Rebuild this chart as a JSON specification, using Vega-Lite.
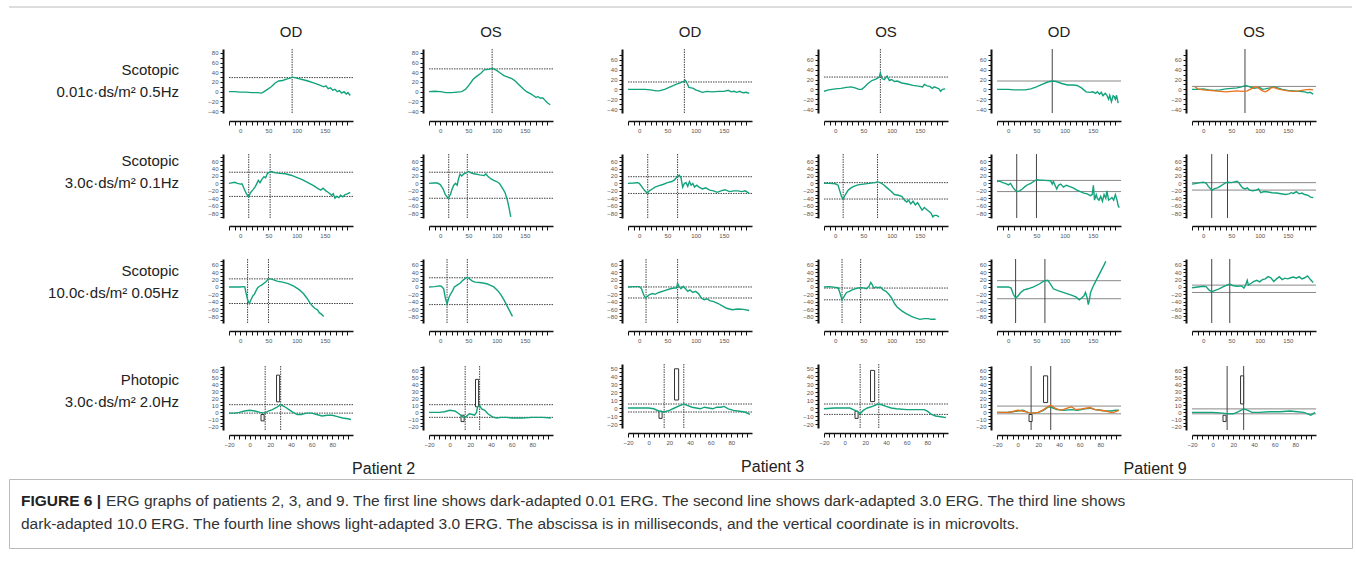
{
"$schema": "https://vega.github.io/schema/vega-lite/v6.json",
"padding": {"left": 8, "top": 6, "right": 5, "bottom": 5},
"background": "white",
"config": {
 "font": "Liberation Sans",
 "view": {"stroke": null},
 "axis": {"grid": false, "domainColor": "#111", "tickColor": "#111", "labelColor": "#555", "labelFontSize": 6, "labelOverlap": false, "labelFlush": false, "titleOpacity": 0, "tickWidth": 1},
 "axisX": {"offset": 8, "domainWidth": 1.5, "tickSize": 4, "labelPadding": 2},
 "axisY": {"offset": 6, "domainWidth": 2, "tickSize": 3, "labelPadding": 2},
 "title": {"fontSize": 15, "fontWeight": "normal", "color": "#222", "font": "Liberation Sans"}
},
"datasets": {
"h": [
{"p":"11","v":29},{"p":"12","v":47},{"p":"13","v":15},{"p":"14","v":25},{"p":"15","v":17},{"p":"16","v":6},
{"p":"21","v":30},{"p":"21","v":-35},{"p":"22","v":30},{"p":"22","v":-40},{"p":"23","v":18},{"p":"23","v":-27},{"p":"24","v":2},{"p":"24","v":-42},{"p":"25","v":8},{"p":"25","v":-22},{"p":"26","v":2},{"p":"26","v":-18},
{"p":"31","v":22},{"p":"31","v":-45},{"p":"32","v":25},{"p":"32","v":-48},{"p":"33","v":0},{"p":"33","v":-30},{"p":"34","v":-3},{"p":"34","v":-35},{"p":"35","v":17},{"p":"35","v":-32},{"p":"36","v":5},{"p":"36","v":-15},
{"p":"41","v":11},{"p":"41","v":-1},{"p":"42","v":11},{"p":"42","v":-7},{"p":"43","v":5},{"p":"43","v":-5},{"p":"44","v":5},{"p":"44","v":-8},{"p":"45","v":9},{"p":"45","v":-2},{"p":"46","v":5},{"p":"46","v":-2}
],
"vl": [
{"p":"11","t":92},{"p":"12","t":92},{"p":"13","t":80},{"p":"14","t":80},{"p":"15","t":78},{"p":"16","t":74},
{"p":"21","t":15},{"p":"21","t":53},{"p":"22","t":15},{"p":"22","t":48},{"p":"23","t":15},{"p":"23","t":68},{"p":"24","t":14},{"p":"24","t":75},{"p":"25","t":15},{"p":"25","t":50},{"p":"26","t":15},{"p":"26","t":43},
{"p":"31","t":13},{"p":"31","t":50},{"p":"32","t":12},{"p":"32","t":48},{"p":"33","t":12},{"p":"33","t":68},{"p":"34","t":12},{"p":"34","t":45},{"p":"35","t":13},{"p":"35","t":65},{"p":"36","t":15},{"p":"36","t":47},
{"p":"41","t":15},{"p":"41","t":30},{"p":"42","t":15},{"p":"42","t":29},{"p":"43","t":15},{"p":"43","t":34},{"p":"44","t":15},{"p":"44","t":33},{"p":"45","t":13},{"p":"45","t":32},{"p":"46","t":14},{"p":"46","t":30}
],
"b": [
{"p":"41","x1":11,"x2":14,"y1":-12,"y2":-3},{"p":"41","x1":26,"x2":29,"y1":15,"y2":53},
{"p":"42","x1":11,"x2":14,"y1":-13,"y2":-4},{"p":"42","x1":25,"x2":28,"y1":8,"y2":47},
{"p":"43","x1":10,"x2":13,"y1":-13,"y2":-4},{"p":"43","x1":25,"x2":29,"y1":10,"y2":49},
{"p":"44","x1":10,"x2":13,"y1":-13,"y2":-4},{"p":"44","x1":25,"x2":29,"y1":8,"y2":47},
{"p":"45","x1":11,"x2":14,"y1":-13,"y2":-3},{"p":"45","x1":25,"x2":29,"y1":14,"y2":52},
{"p":"46","x1":10,"x2":13,"y1":-13,"y2":-4},{"p":"46","x1":27,"x2":30,"y1":12,"y2":52}
],
"c": [
{"p":"11","s":"g","t":-20,"v":0},{"p":"11","s":"g","t":-10,"v":0},{"p":"11","s":"g","t":0,"v":-1},{"p":"11","s":"g","t":10,"v":-1},{"p":"11","s":"g","t":20,"v":-2},{"p":"11","s":"g","t":30,"v":-2},{"p":"11","s":"g","t":38,"v":-3},{"p":"11","s":"g","t":45,"v":2},{"p":"11","s":"g","t":55,"v":10},{"p":"11","s":"g","t":62,"v":18},{"p":"11","s":"g","t":68,"v":22},{"p":"11","s":"g","t":75,"v":23},{"p":"11","s":"g","t":82,"v":26},{"p":"11","s":"g","t":88,"v":28},{"p":"11","s":"g","t":93,"v":30},{"p":"11","s":"g","t":100,"v":28},{"p":"11","s":"g","t":110,"v":25},{"p":"11","s":"g","t":120,"v":22},{"p":"11","s":"g","t":130,"v":18},{"p":"11","s":"g","t":140,"v":14},{"p":"11","s":"g","t":148,"v":10},{"p":"11","s":"g","t":152,"v":12},{"p":"11","s":"g","t":156,"v":6},{"p":"11","s":"g","t":160,"v":8},{"p":"11","s":"g","t":164,"v":3},{"p":"11","s":"g","t":168,"v":5},{"p":"11","s":"g","t":172,"v":0},{"p":"11","s":"g","t":176,"v":2},{"p":"11","s":"g","t":180,"v":-3},{"p":"11","s":"g","t":184,"v":0},{"p":"11","s":"g","t":188,"v":-5},{"p":"11","s":"g","t":191,"v":-2},{"p":"11","s":"g","t":195,"v":-8},
{"p":"12","s":"g","t":-20,"v":0},{"p":"12","s":"g","t":-10,"v":1},{"p":"12","s":"g","t":0,"v":0},{"p":"12","s":"g","t":10,"v":-2},{"p":"12","s":"g","t":20,"v":-2},{"p":"12","s":"g","t":30,"v":-1},{"p":"12","s":"g","t":38,"v":0},{"p":"12","s":"g","t":45,"v":5},{"p":"12","s":"g","t":52,"v":15},{"p":"12","s":"g","t":58,"v":25},{"p":"12","s":"g","t":65,"v":32},{"p":"12","s":"g","t":72,"v":38},{"p":"12","s":"g","t":78,"v":45},{"p":"12","s":"g","t":85,"v":46},{"p":"12","s":"g","t":93,"v":48},{"p":"12","s":"g","t":100,"v":44},{"p":"12","s":"g","t":107,"v":38},{"p":"12","s":"g","t":113,"v":33},{"p":"12","s":"g","t":120,"v":30},{"p":"12","s":"g","t":127,"v":27},{"p":"12","s":"g","t":133,"v":22},{"p":"12","s":"g","t":140,"v":14},{"p":"12","s":"g","t":147,"v":6},{"p":"12","s":"g","t":153,"v":0},{"p":"12","s":"g","t":160,"v":-4},{"p":"12","s":"g","t":165,"v":-8},{"p":"12","s":"g","t":170,"v":-12},{"p":"12","s":"g","t":173,"v":-10},{"p":"12","s":"g","t":177,"v":-13},{"p":"12","s":"g","t":182,"v":-13},{"p":"12","s":"g","t":186,"v":-18},{"p":"12","s":"g","t":190,"v":-23},{"p":"12","s":"g","t":195,"v":-27},
{"p":"13","s":"g","t":-20,"v":0},{"p":"13","s":"g","t":-10,"v":0},{"p":"13","s":"g","t":0,"v":0},{"p":"13","s":"g","t":10,"v":0},{"p":"13","s":"g","t":20,"v":-1},{"p":"13","s":"g","t":30,"v":-3},{"p":"13","s":"g","t":35,"v":-3},{"p":"13","s":"g","t":45,"v":0},{"p":"13","s":"g","t":55,"v":5},{"p":"13","s":"g","t":65,"v":10},{"p":"13","s":"g","t":75,"v":14},{"p":"13","s":"g","t":80,"v":17},{"p":"13","s":"g","t":82,"v":18},{"p":"13","s":"g","t":85,"v":12},{"p":"13","s":"g","t":88,"v":4},{"p":"13","s":"g","t":92,"v":3},{"p":"13","s":"g","t":96,"v":2},{"p":"13","s":"g","t":100,"v":-1},{"p":"13","s":"g","t":105,"v":-3},{"p":"13","s":"g","t":112,"v":-6},{"p":"13","s":"g","t":120,"v":-4},{"p":"13","s":"g","t":130,"v":-5},{"p":"13","s":"g","t":140,"v":-4},{"p":"13","s":"g","t":150,"v":-4},{"p":"13","s":"g","t":158,"v":-2},{"p":"13","s":"g","t":163,"v":-5},{"p":"13","s":"g","t":168,"v":-4},{"p":"13","s":"g","t":173,"v":-6},{"p":"13","s":"g","t":178,"v":-4},{"p":"13","s":"g","t":184,"v":-7},{"p":"13","s":"g","t":190,"v":-6},{"p":"13","s":"g","t":195,"v":-8},
{"p":"14","s":"g","t":-20,"v":-4},{"p":"14","s":"g","t":-12,"v":-1},{"p":"14","s":"g","t":0,"v":1},{"p":"14","s":"g","t":10,"v":2},{"p":"14","s":"g","t":20,"v":4},{"p":"14","s":"g","t":28,"v":5},{"p":"14","s":"g","t":35,"v":3},{"p":"14","s":"g","t":42,"v":0},{"p":"14","s":"g","t":47,"v":0},{"p":"14","s":"g","t":52,"v":5},{"p":"14","s":"g","t":58,"v":12},{"p":"14","s":"g","t":65,"v":18},{"p":"14","s":"g","t":72,"v":21},{"p":"14","s":"g","t":78,"v":25},{"p":"14","s":"g","t":80,"v":33},{"p":"14","s":"g","t":83,"v":22},{"p":"14","s":"g","t":87,"v":20},{"p":"14","s":"g","t":92,"v":27},{"p":"14","s":"g","t":96,"v":18},{"p":"14","s":"g","t":100,"v":20},{"p":"14","s":"g","t":105,"v":16},{"p":"14","s":"g","t":110,"v":17},{"p":"14","s":"g","t":118,"v":13},{"p":"14","s":"g","t":128,"v":11},{"p":"14","s":"g","t":138,"v":8},{"p":"14","s":"g","t":150,"v":6},{"p":"14","s":"g","t":155,"v":5},{"p":"14","s":"g","t":158,"v":10},{"p":"14","s":"g","t":163,"v":7},{"p":"14","s":"g","t":168,"v":6},{"p":"14","s":"g","t":172,"v":2},{"p":"14","s":"g","t":176,"v":5},{"p":"14","s":"g","t":180,"v":3},{"p":"14","s":"g","t":184,"v":1},{"p":"14","s":"g","t":187,"v":-4},{"p":"14","s":"g","t":190,"v":0},{"p":"14","s":"g","t":195,"v":1},
{"p":"15","s":"g","t":-20,"v":0},{"p":"15","s":"g","t":-10,"v":0},{"p":"15","s":"g","t":0,"v":0},{"p":"15","s":"g","t":10,"v":-1},{"p":"15","s":"g","t":20,"v":-1},{"p":"15","s":"g","t":30,"v":-1},{"p":"15","s":"g","t":40,"v":1},{"p":"15","s":"g","t":50,"v":5},{"p":"15","s":"g","t":60,"v":10},{"p":"15","s":"g","t":70,"v":15},{"p":"15","s":"g","t":78,"v":17},{"p":"15","s":"g","t":85,"v":16},{"p":"15","s":"g","t":95,"v":12},{"p":"15","s":"g","t":105,"v":9},{"p":"15","s":"g","t":115,"v":9},{"p":"15","s":"g","t":122,"v":8},{"p":"15","s":"g","t":130,"v":3},{"p":"15","s":"g","t":138,"v":-5},{"p":"15","s":"g","t":145,"v":-6},{"p":"15","s":"g","t":150,"v":-5},{"p":"15","s":"g","t":155,"v":-8},{"p":"15","s":"g","t":158,"v":-5},{"p":"15","s":"g","t":162,"v":-10},{"p":"15","s":"g","t":165,"v":-6},{"p":"15","s":"g","t":168,"v":-13},{"p":"15","s":"g","t":172,"v":-8},{"p":"15","s":"g","t":175,"v":-12},{"p":"15","s":"g","t":178,"v":-20},{"p":"15","s":"g","t":180,"v":-12},{"p":"15","s":"g","t":183,"v":-25},{"p":"15","s":"g","t":186,"v":-13},{"p":"15","s":"g","t":188,"v":-15},{"p":"15","s":"g","t":190,"v":-20},{"p":"15","s":"g","t":192,"v":-12},{"p":"15","s":"g","t":195,"v":-28},
{"p":"16","s":"g","t":-20,"v":0},{"p":"16","s":"g","t":-10,"v":0},{"p":"16","s":"g","t":0,"v":1},{"p":"16","s":"g","t":10,"v":-1},{"p":"16","s":"g","t":20,"v":-2},{"p":"16","s":"g","t":30,"v":-1},{"p":"16","s":"g","t":40,"v":1},{"p":"16","s":"g","t":50,"v":2},{"p":"16","s":"g","t":60,"v":3},{"p":"16","s":"g","t":68,"v":5},{"p":"16","s":"g","t":75,"v":8},{"p":"16","s":"g","t":80,"v":6},{"p":"16","s":"g","t":85,"v":4},{"p":"16","s":"g","t":90,"v":2},{"p":"16","s":"g","t":95,"v":3},{"p":"16","s":"g","t":100,"v":4},{"p":"16","s":"g","t":105,"v":0},{"p":"16","s":"g","t":110,"v":1},{"p":"16","s":"g","t":118,"v":3},{"p":"16","s":"g","t":125,"v":5},{"p":"16","s":"g","t":132,"v":3},{"p":"16","s":"g","t":140,"v":0},{"p":"16","s":"g","t":150,"v":-2},{"p":"16","s":"g","t":160,"v":-3},{"p":"16","s":"g","t":170,"v":-4},{"p":"16","s":"g","t":180,"v":-5},{"p":"16","s":"g","t":185,"v":-7},{"p":"16","s":"g","t":190,"v":-6},{"p":"16","s":"g","t":195,"v":-10},
{"p":"16","s":"o","t":-15,"v":6},{"p":"16","s":"o","t":-10,"v":1},{"p":"16","s":"o","t":0,"v":-1},{"p":"16","s":"o","t":10,"v":-2},{"p":"16","s":"o","t":20,"v":-3},{"p":"16","s":"o","t":30,"v":-4},{"p":"16","s":"o","t":40,"v":-5},{"p":"16","s":"o","t":50,"v":-4},{"p":"16","s":"o","t":60,"v":-3},{"p":"16","s":"o","t":70,"v":-4},{"p":"16","s":"o","t":78,"v":-3},{"p":"16","s":"o","t":85,"v":1},{"p":"16","s":"o","t":90,"v":4},{"p":"16","s":"o","t":95,"v":5},{"p":"16","s":"o","t":100,"v":1},{"p":"16","s":"o","t":105,"v":-3},{"p":"16","s":"o","t":110,"v":-5},{"p":"16","s":"o","t":115,"v":-2},{"p":"16","s":"o","t":120,"v":3},{"p":"16","s":"o","t":125,"v":4},{"p":"16","s":"o","t":132,"v":1},{"p":"16","s":"o","t":140,"v":-1},{"p":"16","s":"o","t":150,"v":-3},{"p":"16","s":"o","t":160,"v":-4},{"p":"16","s":"o","t":170,"v":-3},{"p":"16","s":"o","t":180,"v":-1},{"p":"16","s":"o","t":188,"v":0},{"p":"16","s":"o","t":195,"v":-1},
{"p":"21","s":"g","t":-20,"v":0},{"p":"21","s":"g","t":-10,"v":3},{"p":"21","s":"g","t":-5,"v":0},{"p":"21","s":"g","t":0,"v":-2},{"p":"21","s":"g","t":3,"v":-1},{"p":"21","s":"g","t":7,"v":-15},{"p":"21","s":"g","t":11,"v":-28},{"p":"21","s":"g","t":15,"v":-36},{"p":"21","s":"g","t":18,"v":-25},{"p":"21","s":"g","t":22,"v":-18},{"p":"21","s":"g","t":26,"v":-10},{"p":"21","s":"g","t":29,"v":-2},{"p":"21","s":"g","t":32,"v":8},{"p":"21","s":"g","t":35,"v":2},{"p":"21","s":"g","t":38,"v":10},{"p":"21","s":"g","t":42,"v":18},{"p":"21","s":"g","t":45,"v":15},{"p":"21","s":"g","t":48,"v":26},{"p":"21","s":"g","t":52,"v":30},{"p":"21","s":"g","t":56,"v":32},{"p":"21","s":"g","t":60,"v":29},{"p":"21","s":"g","t":70,"v":27},{"p":"21","s":"g","t":80,"v":26},{"p":"21","s":"g","t":90,"v":22},{"p":"21","s":"g","t":100,"v":16},{"p":"21","s":"g","t":110,"v":10},{"p":"21","s":"g","t":120,"v":2},{"p":"21","s":"g","t":130,"v":-6},{"p":"21","s":"g","t":138,"v":-14},{"p":"21","s":"g","t":143,"v":-18},{"p":"21","s":"g","t":147,"v":-13},{"p":"21","s":"g","t":152,"v":-20},{"p":"21","s":"g","t":157,"v":-25},{"p":"21","s":"g","t":162,"v":-32},{"p":"21","s":"g","t":165,"v":-28},{"p":"21","s":"g","t":168,"v":-40},{"p":"21","s":"g","t":171,"v":-35},{"p":"21","s":"g","t":175,"v":-38},{"p":"21","s":"g","t":178,"v":-32},{"p":"21","s":"g","t":182,"v":-36},{"p":"21","s":"g","t":186,"v":-30},{"p":"21","s":"g","t":190,"v":-28},{"p":"21","s":"g","t":195,"v":-24},
{"p":"22","s":"g","t":-20,"v":0},{"p":"22","s":"g","t":-12,"v":1},{"p":"22","s":"g","t":-5,"v":1},{"p":"22","s":"g","t":0,"v":-3},{"p":"22","s":"g","t":5,"v":-15},{"p":"22","s":"g","t":9,"v":-30},{"p":"22","s":"g","t":14,"v":-40},{"p":"22","s":"g","t":18,"v":-30},{"p":"22","s":"g","t":21,"v":-15},{"p":"22","s":"g","t":24,"v":-5},{"p":"22","s":"g","t":27,"v":0},{"p":"22","s":"g","t":30,"v":-5},{"p":"22","s":"g","t":32,"v":10},{"p":"22","s":"g","t":35,"v":25},{"p":"22","s":"g","t":38,"v":20},{"p":"22","s":"g","t":42,"v":26},{"p":"22","s":"g","t":46,"v":28},{"p":"22","s":"g","t":50,"v":32},{"p":"22","s":"g","t":55,"v":28},{"p":"22","s":"g","t":60,"v":26},{"p":"22","s":"g","t":70,"v":23},{"p":"22","s":"g","t":78,"v":21},{"p":"22","s":"g","t":81,"v":26},{"p":"22","s":"g","t":84,"v":20},{"p":"22","s":"g","t":90,"v":12},{"p":"22","s":"g","t":95,"v":8},{"p":"22","s":"g","t":100,"v":5},{"p":"22","s":"g","t":105,"v":0},{"p":"22","s":"g","t":110,"v":-12},{"p":"22","s":"g","t":115,"v":-25},{"p":"22","s":"g","t":119,"v":-45},{"p":"22","s":"g","t":122,"v":-65},{"p":"22","s":"g","t":125,"v":-90},
{"p":"23","s":"g","t":-20,"v":0},{"p":"23","s":"g","t":-10,"v":1},{"p":"23","s":"g","t":-3,"v":2},{"p":"23","s":"g","t":0,"v":0},{"p":"23","s":"g","t":5,"v":-10},{"p":"23","s":"g","t":10,"v":-20},{"p":"23","s":"g","t":14,"v":-26},{"p":"23","s":"g","t":18,"v":-20},{"p":"23","s":"g","t":23,"v":-15},{"p":"23","s":"g","t":28,"v":-10},{"p":"23","s":"g","t":35,"v":-6},{"p":"23","s":"g","t":42,"v":-3},{"p":"23","s":"g","t":50,"v":2},{"p":"23","s":"g","t":58,"v":5},{"p":"23","s":"g","t":63,"v":10},{"p":"23","s":"g","t":68,"v":20},{"p":"23","s":"g","t":71,"v":22},{"p":"23","s":"g","t":74,"v":15},{"p":"23","s":"g","t":77,"v":-10},{"p":"23","s":"g","t":80,"v":0},{"p":"23","s":"g","t":83,"v":2},{"p":"23","s":"g","t":86,"v":-8},{"p":"23","s":"g","t":89,"v":5},{"p":"23","s":"g","t":92,"v":-5},{"p":"23","s":"g","t":95,"v":0},{"p":"23","s":"g","t":98,"v":-10},{"p":"23","s":"g","t":102,"v":-5},{"p":"23","s":"g","t":106,"v":-10},{"p":"23","s":"g","t":112,"v":-15},{"p":"23","s":"g","t":118,"v":-12},{"p":"23","s":"g","t":125,"v":-18},{"p":"23","s":"g","t":132,"v":-20},{"p":"23","s":"g","t":138,"v":-24},{"p":"23","s":"g","t":145,"v":-20},{"p":"23","s":"g","t":152,"v":-17},{"p":"23","s":"g","t":160,"v":-22},{"p":"23","s":"g","t":168,"v":-20},{"p":"23","s":"g","t":175,"v":-20},{"p":"23","s":"g","t":182,"v":-22},{"p":"23","s":"g","t":188,"v":-20},{"p":"23","s":"g","t":195,"v":-27},
{"p":"24","s":"g","t":-20,"v":0},{"p":"24","s":"g","t":-10,"v":0},{"p":"24","s":"g","t":0,"v":-1},{"p":"24","s":"g","t":5,"v":-5},{"p":"24","s":"g","t":8,"v":-20},{"p":"24","s":"g","t":11,"v":-35},{"p":"24","s":"g","t":14,"v":-42},{"p":"24","s":"g","t":18,"v":-30},{"p":"24","s":"g","t":23,"v":-18},{"p":"24","s":"g","t":28,"v":-12},{"p":"24","s":"g","t":33,"v":-8},{"p":"24","s":"g","t":40,"v":-4},{"p":"24","s":"g","t":50,"v":-2},{"p":"24","s":"g","t":60,"v":0},{"p":"24","s":"g","t":70,"v":2},{"p":"24","s":"g","t":75,"v":4},{"p":"24","s":"g","t":80,"v":2},{"p":"24","s":"g","t":85,"v":-3},{"p":"24","s":"g","t":92,"v":-12},{"p":"24","s":"g","t":98,"v":-20},{"p":"24","s":"g","t":105,"v":-30},{"p":"24","s":"g","t":112,"v":-32},{"p":"24","s":"g","t":118,"v":-35},{"p":"24","s":"g","t":123,"v":-45},{"p":"24","s":"g","t":127,"v":-50},{"p":"24","s":"g","t":130,"v":-45},{"p":"24","s":"g","t":134,"v":-55},{"p":"24","s":"g","t":138,"v":-48},{"p":"24","s":"g","t":142,"v":-58},{"p":"24","s":"g","t":146,"v":-52},{"p":"24","s":"g","t":150,"v":-62},{"p":"24","s":"g","t":154,"v":-72},{"p":"24","s":"g","t":158,"v":-65},{"p":"24","s":"g","t":162,"v":-70},{"p":"24","s":"g","t":166,"v":-75},{"p":"24","s":"g","t":170,"v":-80},{"p":"24","s":"g","t":173,"v":-90},{"p":"24","s":"g","t":176,"v":-86},{"p":"24","s":"g","t":180,"v":-86},{"p":"24","s":"g","t":184,"v":-90},
{"p":"25","s":"g","t":-20,"v":5},{"p":"25","s":"g","t":-15,"v":6},{"p":"25","s":"g","t":-10,"v":2},{"p":"25","s":"g","t":-5,"v":0},{"p":"25","s":"g","t":0,"v":-4},{"p":"25","s":"g","t":4,"v":0},{"p":"25","s":"g","t":8,"v":-10},{"p":"25","s":"g","t":12,"v":-18},{"p":"25","s":"g","t":16,"v":-22},{"p":"25","s":"g","t":20,"v":-20},{"p":"25","s":"g","t":25,"v":-15},{"p":"25","s":"g","t":30,"v":-8},{"p":"25","s":"g","t":35,"v":-3},{"p":"25","s":"g","t":40,"v":0},{"p":"25","s":"g","t":45,"v":5},{"p":"25","s":"g","t":50,"v":10},{"p":"25","s":"g","t":55,"v":9},{"p":"25","s":"g","t":65,"v":8},{"p":"25","s":"g","t":75,"v":7},{"p":"25","s":"g","t":78,"v":-2},{"p":"25","s":"g","t":80,"v":5},{"p":"25","s":"g","t":83,"v":-5},{"p":"25","s":"g","t":86,"v":-15},{"p":"25","s":"g","t":89,"v":-5},{"p":"25","s":"g","t":93,"v":-2},{"p":"25","s":"g","t":98,"v":-10},{"p":"25","s":"g","t":103,"v":-5},{"p":"25","s":"g","t":108,"v":-8},{"p":"25","s":"g","t":115,"v":-12},{"p":"25","s":"g","t":122,"v":-18},{"p":"25","s":"g","t":128,"v":-22},{"p":"25","s":"g","t":134,"v":-26},{"p":"25","s":"g","t":140,"v":-28},{"p":"25","s":"g","t":146,"v":-33},{"p":"25","s":"g","t":149,"v":-30},{"p":"25","s":"g","t":151,"v":-5},{"p":"25","s":"g","t":153,"v":-45},{"p":"25","s":"g","t":156,"v":-30},{"p":"25","s":"g","t":158,"v":-40},{"p":"25","s":"g","t":161,"v":-45},{"p":"25","s":"g","t":164,"v":-35},{"p":"25","s":"g","t":167,"v":-48},{"p":"25","s":"g","t":170,"v":-30},{"p":"25","s":"g","t":173,"v":-40},{"p":"25","s":"g","t":175,"v":-20},{"p":"25","s":"g","t":178,"v":-45},{"p":"25","s":"g","t":181,"v":-42},{"p":"25","s":"g","t":184,"v":-38},{"p":"25","s":"g","t":187,"v":-45},{"p":"25","s":"g","t":190,"v":-30},{"p":"25","s":"g","t":193,"v":-45},{"p":"25","s":"g","t":195,"v":-60},{"p":"25","s":"g","t":197,"v":-65},
{"p":"26","s":"g","t":-20,"v":-2},{"p":"26","s":"g","t":-12,"v":0},{"p":"26","s":"g","t":-5,"v":2},{"p":"26","s":"g","t":0,"v":3},{"p":"26","s":"g","t":5,"v":1},{"p":"26","s":"g","t":9,"v":-8},{"p":"26","s":"g","t":13,"v":-15},{"p":"26","s":"g","t":16,"v":-18},{"p":"26","s":"g","t":20,"v":-14},{"p":"26","s":"g","t":25,"v":-12},{"p":"26","s":"g","t":30,"v":-8},{"p":"26","s":"g","t":35,"v":-3},{"p":"26","s":"g","t":40,"v":2},{"p":"26","s":"g","t":45,"v":3},{"p":"26","s":"g","t":50,"v":2},{"p":"26","s":"g","t":55,"v":4},{"p":"26","s":"g","t":60,"v":6},{"p":"26","s":"g","t":63,"v":2},{"p":"26","s":"g","t":66,"v":-5},{"p":"26","s":"g","t":70,"v":-12},{"p":"26","s":"g","t":74,"v":-15},{"p":"26","s":"g","t":78,"v":-12},{"p":"26","s":"g","t":82,"v":-18},{"p":"26","s":"g","t":88,"v":-20},{"p":"26","s":"g","t":94,"v":-18},{"p":"26","s":"g","t":98,"v":-15},{"p":"26","s":"g","t":102,"v":-25},{"p":"26","s":"g","t":108,"v":-22},{"p":"26","s":"g","t":115,"v":-23},{"p":"26","s":"g","t":122,"v":-25},{"p":"26","s":"g","t":130,"v":-26},{"p":"26","s":"g","t":138,"v":-28},{"p":"26","s":"g","t":146,"v":-30},{"p":"26","s":"g","t":152,"v":-28},{"p":"26","s":"g","t":156,"v":-25},{"p":"26","s":"g","t":160,"v":-27},{"p":"26","s":"g","t":165,"v":-22},{"p":"26","s":"g","t":170,"v":-28},{"p":"26","s":"g","t":175,"v":-26},{"p":"26","s":"g","t":180,"v":-30},{"p":"26","s":"g","t":186,"v":-32},{"p":"26","s":"g","t":190,"v":-37},{"p":"26","s":"g","t":195,"v":-38},
{"p":"31","s":"g","t":-20,"v":0},{"p":"31","s":"g","t":-10,"v":0},{"p":"31","s":"g","t":0,"v":0},{"p":"31","s":"g","t":5,"v":1},{"p":"31","s":"g","t":8,"v":0},{"p":"31","s":"g","t":10,"v":-15},{"p":"31","s":"g","t":13,"v":-35},{"p":"31","s":"g","t":16,"v":-45},{"p":"31","s":"g","t":19,"v":-35},{"p":"31","s":"g","t":22,"v":-25},{"p":"31","s":"g","t":25,"v":-20},{"p":"31","s":"g","t":28,"v":-10},{"p":"31","s":"g","t":31,"v":-2},{"p":"31","s":"g","t":34,"v":2},{"p":"31","s":"g","t":38,"v":5},{"p":"31","s":"g","t":42,"v":10},{"p":"31","s":"g","t":46,"v":15},{"p":"31","s":"g","t":50,"v":22},{"p":"31","s":"g","t":54,"v":22},{"p":"31","s":"g","t":58,"v":20},{"p":"31","s":"g","t":65,"v":16},{"p":"31","s":"g","t":75,"v":13},{"p":"31","s":"g","t":85,"v":9},{"p":"31","s":"g","t":95,"v":2},{"p":"31","s":"g","t":105,"v":-8},{"p":"31","s":"g","t":112,"v":-18},{"p":"31","s":"g","t":118,"v":-30},{"p":"31","s":"g","t":123,"v":-42},{"p":"31","s":"g","t":128,"v":-52},{"p":"31","s":"g","t":132,"v":-58},{"p":"31","s":"g","t":137,"v":-62},{"p":"31","s":"g","t":140,"v":-70},{"p":"31","s":"g","t":144,"v":-74},{"p":"31","s":"g","t":148,"v":-80},
{"p":"32","s":"g","t":-20,"v":0},{"p":"32","s":"g","t":-10,"v":1},{"p":"32","s":"g","t":-2,"v":3},{"p":"32","s":"g","t":2,"v":2},{"p":"32","s":"g","t":6,"v":-5},{"p":"32","s":"g","t":9,"v":-30},{"p":"32","s":"g","t":12,"v":-46},{"p":"32","s":"g","t":15,"v":-30},{"p":"32","s":"g","t":18,"v":-20},{"p":"32","s":"g","t":22,"v":-10},{"p":"32","s":"g","t":25,"v":0},{"p":"32","s":"g","t":30,"v":5},{"p":"32","s":"g","t":35,"v":10},{"p":"32","s":"g","t":40,"v":18},{"p":"32","s":"g","t":45,"v":24},{"p":"32","s":"g","t":48,"v":26},{"p":"32","s":"g","t":52,"v":22},{"p":"32","s":"g","t":57,"v":16},{"p":"32","s":"g","t":62,"v":13},{"p":"32","s":"g","t":70,"v":12},{"p":"32","s":"g","t":78,"v":10},{"p":"32","s":"g","t":84,"v":8},{"p":"32","s":"g","t":88,"v":5},{"p":"32","s":"g","t":95,"v":0},{"p":"32","s":"g","t":102,"v":-10},{"p":"32","s":"g","t":108,"v":-22},{"p":"32","s":"g","t":113,"v":-35},{"p":"32","s":"g","t":118,"v":-50},{"p":"32","s":"g","t":123,"v":-65},{"p":"32","s":"g","t":128,"v":-80},
{"p":"33","s":"g","t":-20,"v":0},{"p":"33","s":"g","t":-10,"v":1},{"p":"33","s":"g","t":0,"v":1},{"p":"33","s":"g","t":4,"v":-5},{"p":"33","s":"g","t":8,"v":-22},{"p":"33","s":"g","t":11,"v":-30},{"p":"33","s":"g","t":15,"v":-25},{"p":"33","s":"g","t":19,"v":-20},{"p":"33","s":"g","t":24,"v":-18},{"p":"33","s":"g","t":28,"v":-20},{"p":"33","s":"g","t":35,"v":-15},{"p":"33","s":"g","t":45,"v":-10},{"p":"33","s":"g","t":55,"v":-5},{"p":"33","s":"g","t":62,"v":-3},{"p":"33","s":"g","t":66,"v":-3},{"p":"33","s":"g","t":68,"v":10},{"p":"33","s":"g","t":71,"v":0},{"p":"33","s":"g","t":74,"v":-5},{"p":"33","s":"g","t":78,"v":2},{"p":"33","s":"g","t":82,"v":-5},{"p":"33","s":"g","t":86,"v":-12},{"p":"33","s":"g","t":90,"v":-8},{"p":"33","s":"g","t":95,"v":-15},{"p":"33","s":"g","t":100,"v":-12},{"p":"33","s":"g","t":105,"v":-18},{"p":"33","s":"g","t":110,"v":-30},{"p":"33","s":"g","t":115,"v":-35},{"p":"33","s":"g","t":120,"v":-32},{"p":"33","s":"g","t":125,"v":-37},{"p":"33","s":"g","t":132,"v":-40},{"p":"33","s":"g","t":140,"v":-45},{"p":"33","s":"g","t":148,"v":-52},{"p":"33","s":"g","t":155,"v":-58},{"p":"33","s":"g","t":165,"v":-62},{"p":"33","s":"g","t":175,"v":-60},{"p":"33","s":"g","t":185,"v":-61},{"p":"33","s":"g","t":195,"v":-64},
{"p":"34","s":"g","t":-20,"v":0},{"p":"34","s":"g","t":-10,"v":1},{"p":"34","s":"g","t":0,"v":-1},{"p":"34","s":"g","t":5,"v":-2},{"p":"34","s":"g","t":8,"v":-15},{"p":"34","s":"g","t":12,"v":-35},{"p":"34","s":"g","t":16,"v":-25},{"p":"34","s":"g","t":20,"v":-15},{"p":"34","s":"g","t":25,"v":-12},{"p":"34","s":"g","t":30,"v":-8},{"p":"34","s":"g","t":35,"v":-5},{"p":"34","s":"g","t":40,"v":-3},{"p":"34","s":"g","t":48,"v":-2},{"p":"34","s":"g","t":55,"v":-5},{"p":"34","s":"g","t":60,"v":2},{"p":"34","s":"g","t":63,"v":12},{"p":"34","s":"g","t":66,"v":5},{"p":"34","s":"g","t":68,"v":-3},{"p":"34","s":"g","t":72,"v":0},{"p":"34","s":"g","t":76,"v":-2},{"p":"34","s":"g","t":80,"v":0},{"p":"34","s":"g","t":85,"v":-8},{"p":"34","s":"g","t":90,"v":-12},{"p":"34","s":"g","t":95,"v":-20},{"p":"34","s":"g","t":100,"v":-30},{"p":"34","s":"g","t":105,"v":-45},{"p":"34","s":"g","t":110,"v":-55},{"p":"34","s":"g","t":118,"v":-65},{"p":"34","s":"g","t":125,"v":-72},{"p":"34","s":"g","t":135,"v":-80},{"p":"34","s":"g","t":142,"v":-84},{"p":"34","s":"g","t":150,"v":-88},{"p":"34","s":"g","t":158,"v":-86},{"p":"34","s":"g","t":165,"v":-86},{"p":"34","s":"g","t":170,"v":-88},{"p":"34","s":"g","t":178,"v":-88},
{"p":"35","s":"g","t":-20,"v":0},{"p":"35","s":"g","t":-10,"v":0},{"p":"35","s":"g","t":0,"v":0},{"p":"35","s":"g","t":5,"v":-3},{"p":"35","s":"g","t":9,"v":-20},{"p":"35","s":"g","t":13,"v":-30},{"p":"35","s":"g","t":17,"v":-25},{"p":"35","s":"g","t":22,"v":-15},{"p":"35","s":"g","t":28,"v":-8},{"p":"35","s":"g","t":35,"v":-5},{"p":"35","s":"g","t":45,"v":0},{"p":"35","s":"g","t":55,"v":8},{"p":"35","s":"g","t":62,"v":15},{"p":"35","s":"g","t":66,"v":17},{"p":"35","s":"g","t":70,"v":18},{"p":"35","s":"g","t":74,"v":10},{"p":"35","s":"g","t":80,"v":-5},{"p":"35","s":"g","t":88,"v":-10},{"p":"35","s":"g","t":96,"v":-14},{"p":"35","s":"g","t":104,"v":-18},{"p":"35","s":"g","t":112,"v":-22},{"p":"35","s":"g","t":120,"v":-27},{"p":"35","s":"g","t":126,"v":-35},{"p":"35","s":"g","t":130,"v":-30},{"p":"35","s":"g","t":134,"v":-25},{"p":"35","s":"g","t":137,"v":-15},{"p":"35","s":"g","t":140,"v":-30},{"p":"35","s":"g","t":142,"v":-48},{"p":"35","s":"g","t":144,"v":-35},{"p":"35","s":"g","t":146,"v":-15},{"p":"35","s":"g","t":150,"v":0},{"p":"35","s":"g","t":155,"v":15},{"p":"35","s":"g","t":160,"v":30},{"p":"35","s":"g","t":165,"v":45},{"p":"35","s":"g","t":170,"v":60},{"p":"35","s":"g","t":173,"v":70},
{"p":"36","s":"g","t":-20,"v":-2},{"p":"36","s":"g","t":-10,"v":0},{"p":"36","s":"g","t":0,"v":2},{"p":"36","s":"g","t":5,"v":1},{"p":"36","s":"g","t":10,"v":-8},{"p":"36","s":"g","t":15,"v":-13},{"p":"36","s":"g","t":20,"v":-10},{"p":"36","s":"g","t":28,"v":-5},{"p":"36","s":"g","t":35,"v":0},{"p":"36","s":"g","t":42,"v":5},{"p":"36","s":"g","t":47,"v":8},{"p":"36","s":"g","t":52,"v":4},{"p":"36","s":"g","t":60,"v":2},{"p":"36","s":"g","t":68,"v":3},{"p":"36","s":"g","t":72,"v":-3},{"p":"36","s":"g","t":75,"v":5},{"p":"36","s":"g","t":78,"v":18},{"p":"36","s":"g","t":80,"v":5},{"p":"36","s":"g","t":85,"v":10},{"p":"36","s":"g","t":90,"v":15},{"p":"36","s":"g","t":95,"v":18},{"p":"36","s":"g","t":100,"v":14},{"p":"36","s":"g","t":105,"v":20},{"p":"36","s":"g","t":110,"v":22},{"p":"36","s":"g","t":115,"v":28},{"p":"36","s":"g","t":120,"v":25},{"p":"36","s":"g","t":125,"v":15},{"p":"36","s":"g","t":130,"v":22},{"p":"36","s":"g","t":135,"v":28},{"p":"36","s":"g","t":140,"v":20},{"p":"36","s":"g","t":145,"v":24},{"p":"36","s":"g","t":150,"v":22},{"p":"36","s":"g","t":155,"v":25},{"p":"36","s":"g","t":160,"v":27},{"p":"36","s":"g","t":165,"v":24},{"p":"36","s":"g","t":170,"v":28},{"p":"36","s":"g","t":175,"v":22},{"p":"36","s":"g","t":180,"v":25},{"p":"36","s":"g","t":185,"v":30},{"p":"36","s":"g","t":190,"v":20},{"p":"36","s":"g","t":195,"v":12},
{"p":"41","s":"g","t":-20,"v":-1},{"p":"41","s":"g","t":-15,"v":-1},{"p":"41","s":"g","t":-10,"v":0},{"p":"41","s":"g","t":-5,"v":2},{"p":"41","s":"g","t":0,"v":3},{"p":"41","s":"g","t":5,"v":2},{"p":"41","s":"g","t":10,"v":0},{"p":"41","s":"g","t":15,"v":-1},{"p":"41","s":"g","t":18,"v":2},{"p":"41","s":"g","t":22,"v":4},{"p":"41","s":"g","t":26,"v":7},{"p":"41","s":"g","t":30,"v":11},{"p":"41","s":"g","t":34,"v":8},{"p":"41","s":"g","t":38,"v":4},{"p":"41","s":"g","t":42,"v":0},{"p":"41","s":"g","t":46,"v":-3},{"p":"41","s":"g","t":50,"v":-3},{"p":"41","s":"g","t":55,"v":-1},{"p":"41","s":"g","t":60,"v":-1},{"p":"41","s":"g","t":65,"v":-3},{"p":"41","s":"g","t":70,"v":-5},{"p":"41","s":"g","t":75,"v":-4},{"p":"41","s":"g","t":80,"v":-4},{"p":"41","s":"g","t":85,"v":-6},{"p":"41","s":"g","t":90,"v":-8},{"p":"41","s":"g","t":95,"v":-9},{"p":"41","s":"g","t":98,"v":-10},
{"p":"42","s":"g","t":-20,"v":0},{"p":"42","s":"g","t":-10,"v":0},{"p":"42","s":"g","t":-5,"v":1},{"p":"42","s":"g","t":0,"v":3},{"p":"42","s":"g","t":5,"v":2},{"p":"42","s":"g","t":10,"v":-3},{"p":"42","s":"g","t":13,"v":-7},{"p":"42","s":"g","t":16,"v":-6},{"p":"42","s":"g","t":19,"v":-2},{"p":"42","s":"g","t":22,"v":-3},{"p":"42","s":"g","t":24,"v":-4},{"p":"42","s":"g","t":26,"v":0},{"p":"42","s":"g","t":27,"v":8},{"p":"42","s":"g","t":29,"v":10},{"p":"42","s":"g","t":31,"v":5},{"p":"42","s":"g","t":34,"v":3},{"p":"42","s":"g","t":37,"v":-2},{"p":"42","s":"g","t":41,"v":-6},{"p":"42","s":"g","t":45,"v":-8},{"p":"42","s":"g","t":50,"v":-7},{"p":"42","s":"g","t":55,"v":-7},{"p":"42","s":"g","t":60,"v":-8},{"p":"42","s":"g","t":70,"v":-8},{"p":"42","s":"g","t":80,"v":-7},{"p":"42","s":"g","t":90,"v":-7},{"p":"42","s":"g","t":98,"v":-8},
{"p":"43","s":"g","t":-20,"v":0},{"p":"43","s":"g","t":-10,"v":0},{"p":"43","s":"g","t":0,"v":0},{"p":"43","s":"g","t":5,"v":-1},{"p":"43","s":"g","t":10,"v":-4},{"p":"43","s":"g","t":15,"v":-5},{"p":"43","s":"g","t":20,"v":-3},{"p":"43","s":"g","t":25,"v":0},{"p":"43","s":"g","t":30,"v":3},{"p":"43","s":"g","t":34,"v":5},{"p":"43","s":"g","t":38,"v":3},{"p":"43","s":"g","t":42,"v":1},{"p":"43","s":"g","t":46,"v":0},{"p":"43","s":"g","t":50,"v":-1},{"p":"43","s":"g","t":54,"v":1},{"p":"43","s":"g","t":58,"v":0},{"p":"43","s":"g","t":62,"v":-1},{"p":"43","s":"g","t":66,"v":1},{"p":"43","s":"g","t":70,"v":1},{"p":"43","s":"g","t":73,"v":2},{"p":"43","s":"g","t":77,"v":-1},{"p":"43","s":"g","t":82,"v":-3},{"p":"43","s":"g","t":88,"v":-4},{"p":"43","s":"g","t":93,"v":-5},{"p":"43","s":"g","t":98,"v":-8},
{"p":"44","s":"g","t":-20,"v":-1},{"p":"44","s":"g","t":-10,"v":0},{"p":"44","s":"g","t":0,"v":0},{"p":"44","s":"g","t":5,"v":0},{"p":"44","s":"g","t":10,"v":-3},{"p":"44","s":"g","t":13,"v":-5},{"p":"44","s":"g","t":15,"v":-7},{"p":"44","s":"g","t":18,"v":-3},{"p":"44","s":"g","t":22,"v":0},{"p":"44","s":"g","t":27,"v":2},{"p":"44","s":"g","t":32,"v":5},{"p":"44","s":"g","t":36,"v":4},{"p":"44","s":"g","t":40,"v":2},{"p":"44","s":"g","t":45,"v":0},{"p":"44","s":"g","t":50,"v":-1},{"p":"44","s":"g","t":60,"v":-2},{"p":"44","s":"g","t":70,"v":-2},{"p":"44","s":"g","t":77,"v":-2},{"p":"44","s":"g","t":80,"v":-4},{"p":"44","s":"g","t":84,"v":-8},{"p":"44","s":"g","t":88,"v":-10},{"p":"44","s":"g","t":93,"v":-11},{"p":"44","s":"g","t":98,"v":-12},
{"p":"45","s":"g","t":-20,"v":0},{"p":"45","s":"g","t":-10,"v":0},{"p":"45","s":"g","t":-5,"v":1},{"p":"45","s":"g","t":0,"v":2},{"p":"45","s":"g","t":5,"v":3},{"p":"45","s":"g","t":10,"v":0},{"p":"45","s":"g","t":15,"v":-1},{"p":"45","s":"g","t":20,"v":0},{"p":"45","s":"g","t":25,"v":3},{"p":"45","s":"g","t":30,"v":8},{"p":"45","s":"g","t":33,"v":7},{"p":"45","s":"g","t":38,"v":4},{"p":"45","s":"g","t":45,"v":3},{"p":"45","s":"g","t":52,"v":4},{"p":"45","s":"g","t":58,"v":3},{"p":"45","s":"g","t":65,"v":5},{"p":"45","s":"g","t":70,"v":6},{"p":"45","s":"g","t":75,"v":4},{"p":"45","s":"g","t":80,"v":3},{"p":"45","s":"g","t":85,"v":2},{"p":"45","s":"g","t":90,"v":2},{"p":"45","s":"g","t":95,"v":3},{"p":"45","s":"g","t":98,"v":3},
{"p":"45","s":"o","t":-20,"v":0},{"p":"45","s":"o","t":-10,"v":0},{"p":"45","s":"o","t":-5,"v":1},{"p":"45","s":"o","t":0,"v":3},{"p":"45","s":"o","t":5,"v":2},{"p":"45","s":"o","t":10,"v":0},{"p":"45","s":"o","t":14,"v":-1},{"p":"45","s":"o","t":20,"v":0},{"p":"45","s":"o","t":25,"v":4},{"p":"45","s":"o","t":30,"v":9},{"p":"45","s":"o","t":32,"v":10},{"p":"45","s":"o","t":36,"v":6},{"p":"45","s":"o","t":42,"v":3},{"p":"45","s":"o","t":48,"v":6},{"p":"45","s":"o","t":52,"v":8},{"p":"45","s":"o","t":56,"v":4},{"p":"45","s":"o","t":62,"v":5},{"p":"45","s":"o","t":66,"v":6},{"p":"45","s":"o","t":70,"v":7},{"p":"45","s":"o","t":75,"v":4},{"p":"45","s":"o","t":80,"v":3},{"p":"45","s":"o","t":85,"v":2},{"p":"45","s":"o","t":90,"v":0},{"p":"45","s":"o","t":93,"v":0},{"p":"45","s":"o","t":98,"v":3},
{"p":"46","s":"g","t":-20,"v":0},{"p":"46","s":"g","t":-10,"v":0},{"p":"46","s":"g","t":0,"v":0},{"p":"46","s":"g","t":10,"v":-1},{"p":"46","s":"g","t":15,"v":-2},{"p":"46","s":"g","t":20,"v":-2},{"p":"46","s":"g","t":25,"v":1},{"p":"46","s":"g","t":30,"v":5},{"p":"46","s":"g","t":34,"v":3},{"p":"46","s":"g","t":38,"v":0},{"p":"46","s":"g","t":45,"v":0},{"p":"46","s":"g","t":55,"v":1},{"p":"46","s":"g","t":65,"v":1},{"p":"46","s":"g","t":75,"v":2},{"p":"46","s":"g","t":82,"v":1},{"p":"46","s":"g","t":88,"v":0},{"p":"46","s":"g","t":92,"v":-2},{"p":"46","s":"g","t":95,"v":-4},{"p":"46","s":"g","t":97,"v":-2},{"p":"46","s":"g","t":99,"v":0}
]
},
"spacing": 16,
"vconcat": [
{"width": 1343, "height": 1, "data": {"values": [{}]}, "mark": {"type": "rule", "color": "#bbb"}, "encoding": {"x": {"value": 0}, "x2": {"value": "width"}, "y": {"value": 0}}},
{"spacing": 1, "vconcat": [
{"spacing": 28, "hconcat": [
 {"spacing": 0, "vconcat": [
  {"width": 170, "height": 104, "data": {"values": [{"t": "Scotopic\n0.01c·ds/m² 0.5Hz"}]}, "mark": {"type": "text", "align": "right", "baseline": "middle", "fontSize": 15, "lineBreak": "\n", "lineHeight": 22, "color": "#222"}, "encoding": {"x": {"value": "width"}, "y": {"value": 21}, "text": {"field": "t"}}},
  {"width": 170, "height": 104, "data": {"values": [{"t": "Scotopic\n3.0c·ds/m² 0.1Hz"}]}, "mark": {"type": "text", "align": "right", "baseline": "middle", "fontSize": 15, "lineBreak": "\n", "lineHeight": 22, "color": "#222"}, "encoding": {"x": {"value": "width"}, "y": {"value": 8}, "text": {"field": "t"}}},
  {"width": 170, "height": 104, "data": {"values": [{"t": "Scotopic\n10.0c·ds/m² 0.05Hz"}]}, "mark": {"type": "text", "align": "right", "baseline": "middle", "fontSize": 15, "lineBreak": "\n", "lineHeight": 22, "color": "#222"}, "encoding": {"x": {"value": "width"}, "y": {"value": 14}, "text": {"field": "t"}}},
  {"width": 170, "height": 104, "data": {"values": [{"t": "Photopic\n3.0c·ds/m² 2.0Hz"}]}, "mark": {"type": "text", "align": "right", "baseline": "middle", "fontSize": 15, "lineBreak": "\n", "lineHeight": 22, "color": "#222"}, "encoding": {"x": {"value": "width"}, "y": {"value": 19}, "text": {"field": "t"}}}
 ]},
 {"spacing": 26, "hconcat": [
 {"spacing": 52, "hconcat": [
  {"title": {"text": "Patient 2", "orient": "bottom", "offset": 14, "fontSize": 16, "anchor": "middle", "dx": 3}, "columns": 2, "align": "each", "spacing": {"row": 20, "column": 53}, "concat": [
   {"width":124,"height":64,"title":{"text":"OD","offset":9,"frame":"group"},"layer":[
    {"data":{"name":"h"},"transform":[{"filter":"datum.p=='11'"}],"mark":{"type":"rule","color":"#444","strokeDash":[1.5,1]},"encoding":{"y":{"field":"v","type":"quantitative","scale":{"domain":[-44,88],"nice":false,"zero":false},"axis":{"title":null,"labelOverlap":false,"labelFlush":false,"ticks":true,"tickCount":100,"tickSize":3,"tickColor":"#111","values":[-40,-30,-20,-10,0,10,20,30,40,50,60,70,80],"labelExpr":"datum.value % 20 == 0 ? datum.label : ''"}}}},
    {"data":{"name":"vl"},"transform":[{"filter":"datum.p=='11'"}],"mark":{"type":"rule","color":"#444","strokeDash":[1.5,1]},"encoding":{"x":{"field":"t","type":"quantitative","scale":{"domain":[-20,200],"nice":false,"zero":false},"axis":{"title":null,"labelOverlap":false,"labelFlush":false,"ticks":true,"tickCount":100,"tickSize":4,"tickColor":"#111","values":[-20,-10,0,10,20,30,40,50,60,70,80,90,100,110,120,130,140,150,160,170,180,190],"labelExpr":"datum.value % 50 == 0 ? datum.label : ''"}}}},
    {"data":{"name":"c"},"transform":[{"filter":"datum.p=='11'"}],"mark":{"type":"line","strokeWidth":1.4,"clip":true},"encoding":{"x":{"field":"t","type":"quantitative"},"y":{"field":"v","type":"quantitative"},"color":{"field":"s","type":"nominal","scale":{"domain":["g","o"],"range":["#12a37c","#e8731c"]},"legend":null}}}
   ]},
   {"width":124,"height":64,"title":{"text":"OS","offset":9,"frame":"group"},"layer":[
    {"data":{"name":"h"},"transform":[{"filter":"datum.p=='12'"}],"mark":{"type":"rule","color":"#444","strokeDash":[1.5,1]},"encoding":{"y":{"field":"v","type":"quantitative","scale":{"domain":[-44,88],"nice":false,"zero":false},"axis":{"title":null,"labelOverlap":false,"labelFlush":false,"ticks":true,"tickCount":100,"tickSize":3,"tickColor":"#111","values":[-40,-30,-20,-10,0,10,20,30,40,50,60,70,80],"labelExpr":"datum.value % 20 == 0 ? datum.label : ''"}}}},
    {"data":{"name":"vl"},"transform":[{"filter":"datum.p=='12'"}],"mark":{"type":"rule","color":"#444","strokeDash":[1.5,1]},"encoding":{"x":{"field":"t","type":"quantitative","scale":{"domain":[-20,200],"nice":false,"zero":false},"axis":{"title":null,"labelOverlap":false,"labelFlush":false,"ticks":true,"tickCount":100,"tickSize":4,"tickColor":"#111","values":[-20,-10,0,10,20,30,40,50,60,70,80,90,100,110,120,130,140,150,160,170,180,190],"labelExpr":"datum.value % 50 == 0 ? datum.label : ''"}}}},
    {"data":{"name":"c"},"transform":[{"filter":"datum.p=='12'"}],"mark":{"type":"line","strokeWidth":1.4,"clip":true},"encoding":{"x":{"field":"t","type":"quantitative"},"y":{"field":"v","type":"quantitative"},"color":{"field":"s","type":"nominal","scale":{"domain":["g","o"],"range":["#12a37c","#e8731c"]},"legend":null}}}
   ]},
   {"width":124,"height":64,"layer":[
    {"data":{"name":"h"},"transform":[{"filter":"datum.p=='21'"}],"mark":{"type":"rule","color":"#444","strokeDash":[1.5,1]},"encoding":{"y":{"field":"v","type":"quantitative","scale":{"domain":[-93,79],"nice":false,"zero":false},"axis":{"title":null,"labelOverlap":false,"labelFlush":false,"ticks":true,"tickCount":100,"tickSize":3,"tickColor":"#111","values":[-90,-80,-70,-60,-50,-40,-30,-20,-10,0,10,20,30,40,50,60,70],"labelExpr":"datum.value % 20 == 0 ? datum.label : ''"}}}},
    {"data":{"name":"vl"},"transform":[{"filter":"datum.p=='21'"}],"mark":{"type":"rule","color":"#444","strokeDash":[1.5,1]},"encoding":{"x":{"field":"t","type":"quantitative","scale":{"domain":[-20,200],"nice":false,"zero":false},"axis":{"title":null,"labelOverlap":false,"labelFlush":false,"ticks":true,"tickCount":100,"tickSize":4,"tickColor":"#111","values":[-20,-10,0,10,20,30,40,50,60,70,80,90,100,110,120,130,140,150,160,170,180,190],"labelExpr":"datum.value % 50 == 0 ? datum.label : ''"}}}},
    {"data":{"name":"c"},"transform":[{"filter":"datum.p=='21'"}],"mark":{"type":"line","strokeWidth":1.4,"clip":true},"encoding":{"x":{"field":"t","type":"quantitative"},"y":{"field":"v","type":"quantitative"},"color":{"field":"s","type":"nominal","scale":{"domain":["g","o"],"range":["#12a37c","#e8731c"]},"legend":null}}}
   ]},
   {"width":124,"height":64,"layer":[
    {"data":{"name":"h"},"transform":[{"filter":"datum.p=='22'"}],"mark":{"type":"rule","color":"#444","strokeDash":[1.5,1]},"encoding":{"y":{"field":"v","type":"quantitative","scale":{"domain":[-93,79],"nice":false,"zero":false},"axis":{"title":null,"labelOverlap":false,"labelFlush":false,"ticks":true,"tickCount":100,"tickSize":3,"tickColor":"#111","values":[-90,-80,-70,-60,-50,-40,-30,-20,-10,0,10,20,30,40,50,60,70],"labelExpr":"datum.value % 20 == 0 ? datum.label : ''"}}}},
    {"data":{"name":"vl"},"transform":[{"filter":"datum.p=='22'"}],"mark":{"type":"rule","color":"#444","strokeDash":[1.5,1]},"encoding":{"x":{"field":"t","type":"quantitative","scale":{"domain":[-20,200],"nice":false,"zero":false},"axis":{"title":null,"labelOverlap":false,"labelFlush":false,"ticks":true,"tickCount":100,"tickSize":4,"tickColor":"#111","values":[-20,-10,0,10,20,30,40,50,60,70,80,90,100,110,120,130,140,150,160,170,180,190],"labelExpr":"datum.value % 50 == 0 ? datum.label : ''"}}}},
    {"data":{"name":"c"},"transform":[{"filter":"datum.p=='22'"}],"mark":{"type":"line","strokeWidth":1.4,"clip":true},"encoding":{"x":{"field":"t","type":"quantitative"},"y":{"field":"v","type":"quantitative"},"color":{"field":"s","type":"nominal","scale":{"domain":["g","o"],"range":["#12a37c","#e8731c"]},"legend":null}}}
   ]},
   {"width":124,"height":64,"layer":[
    {"data":{"name":"h"},"transform":[{"filter":"datum.p=='31'"}],"mark":{"type":"rule","color":"#444","strokeDash":[1.5,1]},"encoding":{"y":{"field":"v","type":"quantitative","scale":{"domain":[-98,76],"nice":false,"zero":false},"axis":{"title":null,"labelOverlap":false,"labelFlush":false,"ticks":true,"tickCount":100,"tickSize":3,"tickColor":"#111","values":[-90,-80,-70,-60,-50,-40,-30,-20,-10,0,10,20,30,40,50,60,70],"labelExpr":"datum.value % 20 == 0 ? datum.label : ''"}}}},
    {"data":{"name":"vl"},"transform":[{"filter":"datum.p=='31'"}],"mark":{"type":"rule","color":"#444","strokeDash":[1.5,1]},"encoding":{"x":{"field":"t","type":"quantitative","scale":{"domain":[-20,200],"nice":false,"zero":false},"axis":{"title":null,"labelOverlap":false,"labelFlush":false,"ticks":true,"tickCount":100,"tickSize":4,"tickColor":"#111","values":[-20,-10,0,10,20,30,40,50,60,70,80,90,100,110,120,130,140,150,160,170,180,190],"labelExpr":"datum.value % 50 == 0 ? datum.label : ''"}}}},
    {"data":{"name":"c"},"transform":[{"filter":"datum.p=='31'"}],"mark":{"type":"line","strokeWidth":1.4,"clip":true},"encoding":{"x":{"field":"t","type":"quantitative"},"y":{"field":"v","type":"quantitative"},"color":{"field":"s","type":"nominal","scale":{"domain":["g","o"],"range":["#12a37c","#e8731c"]},"legend":null}}}
   ]},
   {"width":124,"height":64,"layer":[
    {"data":{"name":"h"},"transform":[{"filter":"datum.p=='32'"}],"mark":{"type":"rule","color":"#444","strokeDash":[1.5,1]},"encoding":{"y":{"field":"v","type":"quantitative","scale":{"domain":[-98,76],"nice":false,"zero":false},"axis":{"title":null,"labelOverlap":false,"labelFlush":false,"ticks":true,"tickCount":100,"tickSize":3,"tickColor":"#111","values":[-90,-80,-70,-60,-50,-40,-30,-20,-10,0,10,20,30,40,50,60,70],"labelExpr":"datum.value % 20 == 0 ? datum.label : ''"}}}},
    {"data":{"name":"vl"},"transform":[{"filter":"datum.p=='32'"}],"mark":{"type":"rule","color":"#444","strokeDash":[1.5,1]},"encoding":{"x":{"field":"t","type":"quantitative","scale":{"domain":[-20,200],"nice":false,"zero":false},"axis":{"title":null,"labelOverlap":false,"labelFlush":false,"ticks":true,"tickCount":100,"tickSize":4,"tickColor":"#111","values":[-20,-10,0,10,20,30,40,50,60,70,80,90,100,110,120,130,140,150,160,170,180,190],"labelExpr":"datum.value % 50 == 0 ? datum.label : ''"}}}},
    {"data":{"name":"c"},"transform":[{"filter":"datum.p=='32'"}],"mark":{"type":"line","strokeWidth":1.4,"clip":true},"encoding":{"x":{"field":"t","type":"quantitative"},"y":{"field":"v","type":"quantitative"},"color":{"field":"s","type":"nominal","scale":{"domain":["g","o"],"range":["#12a37c","#e8731c"]},"legend":null}}}
   ]},
   {"width":124,"height":64,"layer":[
    {"data":{"name":"h"},"transform":[{"filter":"datum.p=='41'"}],"mark":{"type":"rule","color":"#444","strokeDash":[1.5,1]},"encoding":{"y":{"field":"v","type":"quantitative","scale":{"domain":[-25,66],"nice":false,"zero":false},"axis":{"title":null,"labelOverlap":false,"labelFlush":false,"ticks":true,"tickCount":100,"tickSize":3,"tickColor":"#111","values":[-20,-15,-10,-5,0,5,10,15,20,25,30,35,40,45,50,55,60,65],"labelExpr":"datum.value % 10 == 0 ? datum.label : ''"}}}},
    {"data":{"name":"vl"},"transform":[{"filter":"datum.p=='41'"}],"mark":{"type":"rule","color":"#444","strokeDash":[1.5,1]},"encoding":{"x":{"field":"t","type":"quantitative","scale":{"domain":[-20,100],"nice":false,"zero":false},"axis":{"title":null,"offset":5,"labelOverlap":false,"labelFlush":false,"ticks":true,"tickCount":100,"tickSize":4,"tickColor":"#111","values":[-20,-15,-10,-5,0,5,10,15,20,25,30,35,40,45,50,55,60,65,70,75,80,85,90,95],"labelExpr":"datum.value % 20 == 0 ? datum.label : ''"}}}},
    {"data":{"name":"b"},"transform":[{"filter":"datum.p=='41'"}],"mark":{"type":"rect","fill":"white","stroke":"#333","strokeWidth":1},"encoding":{"x":{"field":"x1","type":"quantitative"},"x2":{"field":"x2"},"y":{"field":"y1","type":"quantitative"},"y2":{"field":"y2"}}},
    {"data":{"name":"c"},"transform":[{"filter":"datum.p=='41'"}],"mark":{"type":"line","strokeWidth":1.4,"clip":true},"encoding":{"x":{"field":"t","type":"quantitative"},"y":{"field":"v","type":"quantitative"},"color":{"field":"s","type":"nominal","scale":{"domain":["g","o"],"range":["#12a37c","#e8731c"]},"legend":null}}}
   ]},
   {"width":124,"height":64,"layer":[
    {"data":{"name":"h"},"transform":[{"filter":"datum.p=='42'"}],"mark":{"type":"rule","color":"#444","strokeDash":[1.5,1]},"encoding":{"y":{"field":"v","type":"quantitative","scale":{"domain":[-25,66],"nice":false,"zero":false},"axis":{"title":null,"labelOverlap":false,"labelFlush":false,"ticks":true,"tickCount":100,"tickSize":3,"tickColor":"#111","values":[-20,-15,-10,-5,0,5,10,15,20,25,30,35,40,45,50,55,60,65],"labelExpr":"datum.value % 10 == 0 ? datum.label : ''"}}}},
    {"data":{"name":"vl"},"transform":[{"filter":"datum.p=='42'"}],"mark":{"type":"rule","color":"#444","strokeDash":[1.5,1]},"encoding":{"x":{"field":"t","type":"quantitative","scale":{"domain":[-20,100],"nice":false,"zero":false},"axis":{"title":null,"offset":5,"labelOverlap":false,"labelFlush":false,"ticks":true,"tickCount":100,"tickSize":4,"tickColor":"#111","values":[-20,-15,-10,-5,0,5,10,15,20,25,30,35,40,45,50,55,60,65,70,75,80,85,90,95],"labelExpr":"datum.value % 20 == 0 ? datum.label : ''"}}}},
    {"data":{"name":"b"},"transform":[{"filter":"datum.p=='42'"}],"mark":{"type":"rect","fill":"white","stroke":"#333","strokeWidth":1},"encoding":{"x":{"field":"x1","type":"quantitative"},"x2":{"field":"x2"},"y":{"field":"y1","type":"quantitative"},"y2":{"field":"y2"}}},
    {"data":{"name":"c"},"transform":[{"filter":"datum.p=='42'"}],"mark":{"type":"line","strokeWidth":1.4,"clip":true},"encoding":{"x":{"field":"t","type":"quantitative"},"y":{"field":"v","type":"quantitative"},"color":{"field":"s","type":"nominal","scale":{"domain":["g","o"],"range":["#12a37c","#e8731c"]},"legend":null}}}
   ]}
  ]},
  {"title": {"text": "Patient 3", "orient": "bottom", "offset": 14, "fontSize": 16, "anchor": "middle", "dx": -5}, "columns": 2, "align": "each", "spacing": {"row": 20, "column": 49}, "concat": [
   {"width":124,"height":64,"title":{"text":"OD","offset":9,"frame":"group"},"layer":[
    {"data":{"name":"h"},"transform":[{"filter":"datum.p=='13'"}],"mark":{"type":"rule","color":"#444","strokeDash":[1.5,1]},"encoding":{"y":{"field":"v","type":"quantitative","scale":{"domain":[-48,82],"nice":false,"zero":false},"axis":{"title":null,"labelOverlap":false,"labelFlush":false,"ticks":true,"tickCount":100,"tickSize":3,"tickColor":"#111","values":[-40,-30,-20,-10,0,10,20,30,40,50,60,70],"labelExpr":"datum.value % 20 == 0 ? datum.label : ''"}}}},
    {"data":{"name":"vl"},"transform":[{"filter":"datum.p=='13'"}],"mark":{"type":"rule","color":"#444","strokeDash":[1.5,1]},"encoding":{"x":{"field":"t","type":"quantitative","scale":{"domain":[-20,200],"nice":false,"zero":false},"axis":{"title":null,"labelOverlap":false,"labelFlush":false,"ticks":true,"tickCount":100,"tickSize":4,"tickColor":"#111","values":[-20,-10,0,10,20,30,40,50,60,70,80,90,100,110,120,130,140,150,160,170,180,190],"labelExpr":"datum.value % 50 == 0 ? datum.label : ''"}}}},
    {"data":{"name":"c"},"transform":[{"filter":"datum.p=='13'"}],"mark":{"type":"line","strokeWidth":1.4,"clip":true},"encoding":{"x":{"field":"t","type":"quantitative"},"y":{"field":"v","type":"quantitative"},"color":{"field":"s","type":"nominal","scale":{"domain":["g","o"],"range":["#12a37c","#e8731c"]},"legend":null}}}
   ]},
   {"width":124,"height":64,"title":{"text":"OS","offset":9,"frame":"group"},"layer":[
    {"data":{"name":"h"},"transform":[{"filter":"datum.p=='14'"}],"mark":{"type":"rule","color":"#444","strokeDash":[1.5,1]},"encoding":{"y":{"field":"v","type":"quantitative","scale":{"domain":[-48,82],"nice":false,"zero":false},"axis":{"title":null,"labelOverlap":false,"labelFlush":false,"ticks":true,"tickCount":100,"tickSize":3,"tickColor":"#111","values":[-40,-30,-20,-10,0,10,20,30,40,50,60,70],"labelExpr":"datum.value % 20 == 0 ? datum.label : ''"}}}},
    {"data":{"name":"vl"},"transform":[{"filter":"datum.p=='14'"}],"mark":{"type":"rule","color":"#444","strokeDash":[1.5,1]},"encoding":{"x":{"field":"t","type":"quantitative","scale":{"domain":[-20,200],"nice":false,"zero":false},"axis":{"title":null,"labelOverlap":false,"labelFlush":false,"ticks":true,"tickCount":100,"tickSize":4,"tickColor":"#111","values":[-20,-10,0,10,20,30,40,50,60,70,80,90,100,110,120,130,140,150,160,170,180,190],"labelExpr":"datum.value % 50 == 0 ? datum.label : ''"}}}},
    {"data":{"name":"c"},"transform":[{"filter":"datum.p=='14'"}],"mark":{"type":"line","strokeWidth":1.4,"clip":true},"encoding":{"x":{"field":"t","type":"quantitative"},"y":{"field":"v","type":"quantitative"},"color":{"field":"s","type":"nominal","scale":{"domain":["g","o"],"range":["#12a37c","#e8731c"]},"legend":null}}}
   ]},
   {"width":124,"height":64,"layer":[
    {"data":{"name":"h"},"transform":[{"filter":"datum.p=='23'"}],"mark":{"type":"rule","color":"#444","strokeDash":[1.5,1]},"encoding":{"y":{"field":"v","type":"quantitative","scale":{"domain":[-93,79],"nice":false,"zero":false},"axis":{"title":null,"labelOverlap":false,"labelFlush":false,"ticks":true,"tickCount":100,"tickSize":3,"tickColor":"#111","values":[-90,-80,-70,-60,-50,-40,-30,-20,-10,0,10,20,30,40,50,60,70],"labelExpr":"datum.value % 20 == 0 ? datum.label : ''"}}}},
    {"data":{"name":"vl"},"transform":[{"filter":"datum.p=='23'"}],"mark":{"type":"rule","color":"#444","strokeDash":[1.5,1]},"encoding":{"x":{"field":"t","type":"quantitative","scale":{"domain":[-20,200],"nice":false,"zero":false},"axis":{"title":null,"labelOverlap":false,"labelFlush":false,"ticks":true,"tickCount":100,"tickSize":4,"tickColor":"#111","values":[-20,-10,0,10,20,30,40,50,60,70,80,90,100,110,120,130,140,150,160,170,180,190],"labelExpr":"datum.value % 50 == 0 ? datum.label : ''"}}}},
    {"data":{"name":"c"},"transform":[{"filter":"datum.p=='23'"}],"mark":{"type":"line","strokeWidth":1.4,"clip":true},"encoding":{"x":{"field":"t","type":"quantitative"},"y":{"field":"v","type":"quantitative"},"color":{"field":"s","type":"nominal","scale":{"domain":["g","o"],"range":["#12a37c","#e8731c"]},"legend":null}}}
   ]},
   {"width":124,"height":64,"layer":[
    {"data":{"name":"h"},"transform":[{"filter":"datum.p=='24'"}],"mark":{"type":"rule","color":"#444","strokeDash":[1.5,1]},"encoding":{"y":{"field":"v","type":"quantitative","scale":{"domain":[-93,79],"nice":false,"zero":false},"axis":{"title":null,"labelOverlap":false,"labelFlush":false,"ticks":true,"tickCount":100,"tickSize":3,"tickColor":"#111","values":[-90,-80,-70,-60,-50,-40,-30,-20,-10,0,10,20,30,40,50,60,70],"labelExpr":"datum.value % 20 == 0 ? datum.label : ''"}}}},
    {"data":{"name":"vl"},"transform":[{"filter":"datum.p=='24'"}],"mark":{"type":"rule","color":"#444","strokeDash":[1.5,1]},"encoding":{"x":{"field":"t","type":"quantitative","scale":{"domain":[-20,200],"nice":false,"zero":false},"axis":{"title":null,"labelOverlap":false,"labelFlush":false,"ticks":true,"tickCount":100,"tickSize":4,"tickColor":"#111","values":[-20,-10,0,10,20,30,40,50,60,70,80,90,100,110,120,130,140,150,160,170,180,190],"labelExpr":"datum.value % 50 == 0 ? datum.label : ''"}}}},
    {"data":{"name":"c"},"transform":[{"filter":"datum.p=='24'"}],"mark":{"type":"line","strokeWidth":1.4,"clip":true},"encoding":{"x":{"field":"t","type":"quantitative"},"y":{"field":"v","type":"quantitative"},"color":{"field":"s","type":"nominal","scale":{"domain":["g","o"],"range":["#12a37c","#e8731c"]},"legend":null}}}
   ]},
   {"width":124,"height":64,"layer":[
    {"data":{"name":"h"},"transform":[{"filter":"datum.p=='33'"}],"mark":{"type":"rule","color":"#444","strokeDash":[1.5,1]},"encoding":{"y":{"field":"v","type":"quantitative","scale":{"domain":[-98,76],"nice":false,"zero":false},"axis":{"title":null,"labelOverlap":false,"labelFlush":false,"ticks":true,"tickCount":100,"tickSize":3,"tickColor":"#111","values":[-90,-80,-70,-60,-50,-40,-30,-20,-10,0,10,20,30,40,50,60,70],"labelExpr":"datum.value % 20 == 0 ? datum.label : ''"}}}},
    {"data":{"name":"vl"},"transform":[{"filter":"datum.p=='33'"}],"mark":{"type":"rule","color":"#444","strokeDash":[1.5,1]},"encoding":{"x":{"field":"t","type":"quantitative","scale":{"domain":[-20,200],"nice":false,"zero":false},"axis":{"title":null,"labelOverlap":false,"labelFlush":false,"ticks":true,"tickCount":100,"tickSize":4,"tickColor":"#111","values":[-20,-10,0,10,20,30,40,50,60,70,80,90,100,110,120,130,140,150,160,170,180,190],"labelExpr":"datum.value % 50 == 0 ? datum.label : ''"}}}},
    {"data":{"name":"c"},"transform":[{"filter":"datum.p=='33'"}],"mark":{"type":"line","strokeWidth":1.4,"clip":true},"encoding":{"x":{"field":"t","type":"quantitative"},"y":{"field":"v","type":"quantitative"},"color":{"field":"s","type":"nominal","scale":{"domain":["g","o"],"range":["#12a37c","#e8731c"]},"legend":null}}}
   ]},
   {"width":124,"height":64,"layer":[
    {"data":{"name":"h"},"transform":[{"filter":"datum.p=='34'"}],"mark":{"type":"rule","color":"#444","strokeDash":[1.5,1]},"encoding":{"y":{"field":"v","type":"quantitative","scale":{"domain":[-98,76],"nice":false,"zero":false},"axis":{"title":null,"labelOverlap":false,"labelFlush":false,"ticks":true,"tickCount":100,"tickSize":3,"tickColor":"#111","values":[-90,-80,-70,-60,-50,-40,-30,-20,-10,0,10,20,30,40,50,60,70],"labelExpr":"datum.value % 20 == 0 ? datum.label : ''"}}}},
    {"data":{"name":"vl"},"transform":[{"filter":"datum.p=='34'"}],"mark":{"type":"rule","color":"#444","strokeDash":[1.5,1]},"encoding":{"x":{"field":"t","type":"quantitative","scale":{"domain":[-20,200],"nice":false,"zero":false},"axis":{"title":null,"labelOverlap":false,"labelFlush":false,"ticks":true,"tickCount":100,"tickSize":4,"tickColor":"#111","values":[-20,-10,0,10,20,30,40,50,60,70,80,90,100,110,120,130,140,150,160,170,180,190],"labelExpr":"datum.value % 50 == 0 ? datum.label : ''"}}}},
    {"data":{"name":"c"},"transform":[{"filter":"datum.p=='34'"}],"mark":{"type":"line","strokeWidth":1.4,"clip":true},"encoding":{"x":{"field":"t","type":"quantitative"},"y":{"field":"v","type":"quantitative"},"color":{"field":"s","type":"nominal","scale":{"domain":["g","o"],"range":["#12a37c","#e8731c"]},"legend":null}}}
   ]},
   {"width":124,"height":64,"layer":[
    {"data":{"name":"h"},"transform":[{"filter":"datum.p=='43'"}],"mark":{"type":"rule","color":"#444","strokeDash":[1.5,1]},"encoding":{"y":{"field":"v","type":"quantitative","scale":{"domain":[-25,55],"nice":false,"zero":false},"axis":{"title":null,"labelOverlap":false,"labelFlush":false,"ticks":true,"tickCount":100,"tickSize":3,"tickColor":"#111","values":[-20,-15,-10,-5,0,5,10,15,20,25,30,35,40,45,50],"labelExpr":"datum.value % 10 == 0 ? datum.label : ''"}}}},
    {"data":{"name":"vl"},"transform":[{"filter":"datum.p=='43'"}],"mark":{"type":"rule","color":"#444","strokeDash":[1.5,1]},"encoding":{"x":{"field":"t","type":"quantitative","scale":{"domain":[-20,100],"nice":false,"zero":false},"axis":{"title":null,"offset":5,"labelOverlap":false,"labelFlush":false,"ticks":true,"tickCount":100,"tickSize":4,"tickColor":"#111","values":[-20,-15,-10,-5,0,5,10,15,20,25,30,35,40,45,50,55,60,65,70,75,80,85,90,95],"labelExpr":"datum.value % 20 == 0 ? datum.label : ''"}}}},
    {"data":{"name":"b"},"transform":[{"filter":"datum.p=='43'"}],"mark":{"type":"rect","fill":"white","stroke":"#333","strokeWidth":1},"encoding":{"x":{"field":"x1","type":"quantitative"},"x2":{"field":"x2"},"y":{"field":"y1","type":"quantitative"},"y2":{"field":"y2"}}},
    {"data":{"name":"c"},"transform":[{"filter":"datum.p=='43'"}],"mark":{"type":"line","strokeWidth":1.4,"clip":true},"encoding":{"x":{"field":"t","type":"quantitative"},"y":{"field":"v","type":"quantitative"},"color":{"field":"s","type":"nominal","scale":{"domain":["g","o"],"range":["#12a37c","#e8731c"]},"legend":null}}}
   ]},
   {"width":124,"height":64,"layer":[
    {"data":{"name":"h"},"transform":[{"filter":"datum.p=='44'"}],"mark":{"type":"rule","color":"#444","strokeDash":[1.5,1]},"encoding":{"y":{"field":"v","type":"quantitative","scale":{"domain":[-25,55],"nice":false,"zero":false},"axis":{"title":null,"labelOverlap":false,"labelFlush":false,"ticks":true,"tickCount":100,"tickSize":3,"tickColor":"#111","values":[-20,-15,-10,-5,0,5,10,15,20,25,30,35,40,45,50],"labelExpr":"datum.value % 10 == 0 ? datum.label : ''"}}}},
    {"data":{"name":"vl"},"transform":[{"filter":"datum.p=='44'"}],"mark":{"type":"rule","color":"#444","strokeDash":[1.5,1]},"encoding":{"x":{"field":"t","type":"quantitative","scale":{"domain":[-20,100],"nice":false,"zero":false},"axis":{"title":null,"offset":5,"labelOverlap":false,"labelFlush":false,"ticks":true,"tickCount":100,"tickSize":4,"tickColor":"#111","values":[-20,-15,-10,-5,0,5,10,15,20,25,30,35,40,45,50,55,60,65,70,75,80,85,90,95],"labelExpr":"datum.value % 20 == 0 ? datum.label : ''"}}}},
    {"data":{"name":"b"},"transform":[{"filter":"datum.p=='44'"}],"mark":{"type":"rect","fill":"white","stroke":"#333","strokeWidth":1},"encoding":{"x":{"field":"x1","type":"quantitative"},"x2":{"field":"x2"},"y":{"field":"y1","type":"quantitative"},"y2":{"field":"y2"}}},
    {"data":{"name":"c"},"transform":[{"filter":"datum.p=='44'"}],"mark":{"type":"line","strokeWidth":1.4,"clip":true},"encoding":{"x":{"field":"t","type":"quantitative"},"y":{"field":"v","type":"quantitative"},"color":{"field":"s","type":"nominal","scale":{"domain":["g","o"],"range":["#12a37c","#e8731c"]},"legend":null}}}
   ]}
  ]}
 ]},
 {"title": {"text": "Patient 9", "orient": "bottom", "offset": 14, "fontSize": 16, "anchor": "middle", "dx": 9}, "columns": 2, "align": "each", "spacing": {"row": 20, "column": 48}, "concat": [
   {"width":124,"height":64,"title":{"text":"OD","offset":9,"frame":"group"},"layer":[
    {"data":{"name":"h"},"transform":[{"filter":"datum.p=='15'"}],"mark":{"type":"rule","color":"#888"},"encoding":{"y":{"field":"v","type":"quantitative","scale":{"domain":[-48,82],"nice":false,"zero":false},"axis":{"title":null,"labelOverlap":false,"labelFlush":false,"ticks":true,"tickCount":100,"tickSize":3,"tickColor":"#111","values":[-40,-30,-20,-10,0,10,20,30,40,50,60,70],"labelExpr":"datum.value % 20 == 0 ? datum.label : ''"}}}},
    {"data":{"name":"vl"},"transform":[{"filter":"datum.p=='15'"}],"mark":{"type":"rule","color":"#444"},"encoding":{"x":{"field":"t","type":"quantitative","scale":{"domain":[-20,200],"nice":false,"zero":false},"axis":{"title":null,"labelOverlap":false,"labelFlush":false,"ticks":true,"tickCount":100,"tickSize":4,"tickColor":"#111","values":[-20,-10,0,10,20,30,40,50,60,70,80,90,100,110,120,130,140,150,160,170,180,190],"labelExpr":"datum.value % 50 == 0 ? datum.label : ''"}}}},
    {"data":{"name":"c"},"transform":[{"filter":"datum.p=='15'"}],"mark":{"type":"line","strokeWidth":1.4,"clip":true},"encoding":{"x":{"field":"t","type":"quantitative"},"y":{"field":"v","type":"quantitative"},"color":{"field":"s","type":"nominal","scale":{"domain":["g","o"],"range":["#12a37c","#e8731c"]},"legend":null}}}
   ]},
   {"width":124,"height":64,"title":{"text":"OS","offset":9,"frame":"group"},"layer":[
    {"data":{"name":"h"},"transform":[{"filter":"datum.p=='16'"}],"mark":{"type":"rule","color":"#888"},"encoding":{"y":{"field":"v","type":"quantitative","scale":{"domain":[-48,82],"nice":false,"zero":false},"axis":{"title":null,"labelOverlap":false,"labelFlush":false,"ticks":true,"tickCount":100,"tickSize":3,"tickColor":"#111","values":[-40,-30,-20,-10,0,10,20,30,40,50,60,70],"labelExpr":"datum.value % 20 == 0 ? datum.label : ''"}}}},
    {"data":{"name":"vl"},"transform":[{"filter":"datum.p=='16'"}],"mark":{"type":"rule","color":"#444"},"encoding":{"x":{"field":"t","type":"quantitative","scale":{"domain":[-20,200],"nice":false,"zero":false},"axis":{"title":null,"labelOverlap":false,"labelFlush":false,"ticks":true,"tickCount":100,"tickSize":4,"tickColor":"#111","values":[-20,-10,0,10,20,30,40,50,60,70,80,90,100,110,120,130,140,150,160,170,180,190],"labelExpr":"datum.value % 50 == 0 ? datum.label : ''"}}}},
    {"data":{"name":"c"},"transform":[{"filter":"datum.p=='16'"}],"mark":{"type":"line","strokeWidth":1.4,"clip":true},"encoding":{"x":{"field":"t","type":"quantitative"},"y":{"field":"v","type":"quantitative"},"color":{"field":"s","type":"nominal","scale":{"domain":["g","o"],"range":["#12a37c","#e8731c"]},"legend":null}}}
   ]},
   {"width":124,"height":64,"layer":[
    {"data":{"name":"h"},"transform":[{"filter":"datum.p=='25'"}],"mark":{"type":"rule","color":"#888"},"encoding":{"y":{"field":"v","type":"quantitative","scale":{"domain":[-93,79],"nice":false,"zero":false},"axis":{"title":null,"labelOverlap":false,"labelFlush":false,"ticks":true,"tickCount":100,"tickSize":3,"tickColor":"#111","values":[-90,-80,-70,-60,-50,-40,-30,-20,-10,0,10,20,30,40,50,60,70],"labelExpr":"datum.value % 20 == 0 ? datum.label : ''"}}}},
    {"data":{"name":"vl"},"transform":[{"filter":"datum.p=='25'"}],"mark":{"type":"rule","color":"#444"},"encoding":{"x":{"field":"t","type":"quantitative","scale":{"domain":[-20,200],"nice":false,"zero":false},"axis":{"title":null,"labelOverlap":false,"labelFlush":false,"ticks":true,"tickCount":100,"tickSize":4,"tickColor":"#111","values":[-20,-10,0,10,20,30,40,50,60,70,80,90,100,110,120,130,140,150,160,170,180,190],"labelExpr":"datum.value % 50 == 0 ? datum.label : ''"}}}},
    {"data":{"name":"c"},"transform":[{"filter":"datum.p=='25'"}],"mark":{"type":"line","strokeWidth":1.4,"clip":true},"encoding":{"x":{"field":"t","type":"quantitative"},"y":{"field":"v","type":"quantitative"},"color":{"field":"s","type":"nominal","scale":{"domain":["g","o"],"range":["#12a37c","#e8731c"]},"legend":null}}}
   ]},
   {"width":124,"height":64,"layer":[
    {"data":{"name":"h"},"transform":[{"filter":"datum.p=='26'"}],"mark":{"type":"rule","color":"#888"},"encoding":{"y":{"field":"v","type":"quantitative","scale":{"domain":[-93,79],"nice":false,"zero":false},"axis":{"title":null,"labelOverlap":false,"labelFlush":false,"ticks":true,"tickCount":100,"tickSize":3,"tickColor":"#111","values":[-90,-80,-70,-60,-50,-40,-30,-20,-10,0,10,20,30,40,50,60,70],"labelExpr":"datum.value % 20 == 0 ? datum.label : ''"}}}},
    {"data":{"name":"vl"},"transform":[{"filter":"datum.p=='26'"}],"mark":{"type":"rule","color":"#444"},"encoding":{"x":{"field":"t","type":"quantitative","scale":{"domain":[-20,200],"nice":false,"zero":false},"axis":{"title":null,"labelOverlap":false,"labelFlush":false,"ticks":true,"tickCount":100,"tickSize":4,"tickColor":"#111","values":[-20,-10,0,10,20,30,40,50,60,70,80,90,100,110,120,130,140,150,160,170,180,190],"labelExpr":"datum.value % 50 == 0 ? datum.label : ''"}}}},
    {"data":{"name":"c"},"transform":[{"filter":"datum.p=='26'"}],"mark":{"type":"line","strokeWidth":1.4,"clip":true},"encoding":{"x":{"field":"t","type":"quantitative"},"y":{"field":"v","type":"quantitative"},"color":{"field":"s","type":"nominal","scale":{"domain":["g","o"],"range":["#12a37c","#e8731c"]},"legend":null}}}
   ]},
   {"width":124,"height":64,"layer":[
    {"data":{"name":"h"},"transform":[{"filter":"datum.p=='35'"}],"mark":{"type":"rule","color":"#888"},"encoding":{"y":{"field":"v","type":"quantitative","scale":{"domain":[-98,76],"nice":false,"zero":false},"axis":{"title":null,"labelOverlap":false,"labelFlush":false,"ticks":true,"tickCount":100,"tickSize":3,"tickColor":"#111","values":[-90,-80,-70,-60,-50,-40,-30,-20,-10,0,10,20,30,40,50,60,70],"labelExpr":"datum.value % 20 == 0 ? datum.label : ''"}}}},
    {"data":{"name":"vl"},"transform":[{"filter":"datum.p=='35'"}],"mark":{"type":"rule","color":"#444"},"encoding":{"x":{"field":"t","type":"quantitative","scale":{"domain":[-20,200],"nice":false,"zero":false},"axis":{"title":null,"labelOverlap":false,"labelFlush":false,"ticks":true,"tickCount":100,"tickSize":4,"tickColor":"#111","values":[-20,-10,0,10,20,30,40,50,60,70,80,90,100,110,120,130,140,150,160,170,180,190],"labelExpr":"datum.value % 50 == 0 ? datum.label : ''"}}}},
    {"data":{"name":"c"},"transform":[{"filter":"datum.p=='35'"}],"mark":{"type":"line","strokeWidth":1.4,"clip":true},"encoding":{"x":{"field":"t","type":"quantitative"},"y":{"field":"v","type":"quantitative"},"color":{"field":"s","type":"nominal","scale":{"domain":["g","o"],"range":["#12a37c","#e8731c"]},"legend":null}}}
   ]},
   {"width":124,"height":64,"layer":[
    {"data":{"name":"h"},"transform":[{"filter":"datum.p=='36'"}],"mark":{"type":"rule","color":"#888"},"encoding":{"y":{"field":"v","type":"quantitative","scale":{"domain":[-98,76],"nice":false,"zero":false},"axis":{"title":null,"labelOverlap":false,"labelFlush":false,"ticks":true,"tickCount":100,"tickSize":3,"tickColor":"#111","values":[-90,-80,-70,-60,-50,-40,-30,-20,-10,0,10,20,30,40,50,60,70],"labelExpr":"datum.value % 20 == 0 ? datum.label : ''"}}}},
    {"data":{"name":"vl"},"transform":[{"filter":"datum.p=='36'"}],"mark":{"type":"rule","color":"#444"},"encoding":{"x":{"field":"t","type":"quantitative","scale":{"domain":[-20,200],"nice":false,"zero":false},"axis":{"title":null,"labelOverlap":false,"labelFlush":false,"ticks":true,"tickCount":100,"tickSize":4,"tickColor":"#111","values":[-20,-10,0,10,20,30,40,50,60,70,80,90,100,110,120,130,140,150,160,170,180,190],"labelExpr":"datum.value % 50 == 0 ? datum.label : ''"}}}},
    {"data":{"name":"c"},"transform":[{"filter":"datum.p=='36'"}],"mark":{"type":"line","strokeWidth":1.4,"clip":true},"encoding":{"x":{"field":"t","type":"quantitative"},"y":{"field":"v","type":"quantitative"},"color":{"field":"s","type":"nominal","scale":{"domain":["g","o"],"range":["#12a37c","#e8731c"]},"legend":null}}}
   ]},
   {"width":124,"height":64,"layer":[
    {"data":{"name":"h"},"transform":[{"filter":"datum.p=='45'"}],"mark":{"type":"rule","color":"#888"},"encoding":{"y":{"field":"v","type":"quantitative","scale":{"domain":[-25,66],"nice":false,"zero":false},"axis":{"title":null,"labelOverlap":false,"labelFlush":false,"ticks":true,"tickCount":100,"tickSize":3,"tickColor":"#111","values":[-20,-15,-10,-5,0,5,10,15,20,25,30,35,40,45,50,55,60,65],"labelExpr":"datum.value % 10 == 0 ? datum.label : ''"}}}},
    {"data":{"name":"vl"},"transform":[{"filter":"datum.p=='45'"}],"mark":{"type":"rule","color":"#444"},"encoding":{"x":{"field":"t","type":"quantitative","scale":{"domain":[-20,100],"nice":false,"zero":false},"axis":{"title":null,"offset":5,"labelOverlap":false,"labelFlush":false,"ticks":true,"tickCount":100,"tickSize":4,"tickColor":"#111","values":[-20,-15,-10,-5,0,5,10,15,20,25,30,35,40,45,50,55,60,65,70,75,80,85,90,95],"labelExpr":"datum.value % 20 == 0 ? datum.label : ''"}}}},
    {"data":{"name":"b"},"transform":[{"filter":"datum.p=='45'"}],"mark":{"type":"rect","fill":"white","stroke":"#333","strokeWidth":1},"encoding":{"x":{"field":"x1","type":"quantitative"},"x2":{"field":"x2"},"y":{"field":"y1","type":"quantitative"},"y2":{"field":"y2"}}},
    {"data":{"name":"c"},"transform":[{"filter":"datum.p=='45'"}],"mark":{"type":"line","strokeWidth":1.4,"clip":true},"encoding":{"x":{"field":"t","type":"quantitative"},"y":{"field":"v","type":"quantitative"},"color":{"field":"s","type":"nominal","scale":{"domain":["g","o"],"range":["#12a37c","#e8731c"]},"legend":null}}}
   ]},
   {"width":124,"height":64,"layer":[
    {"data":{"name":"h"},"transform":[{"filter":"datum.p=='46'"}],"mark":{"type":"rule","color":"#888"},"encoding":{"y":{"field":"v","type":"quantitative","scale":{"domain":[-25,66],"nice":false,"zero":false},"axis":{"title":null,"labelOverlap":false,"labelFlush":false,"ticks":true,"tickCount":100,"tickSize":3,"tickColor":"#111","values":[-20,-15,-10,-5,0,5,10,15,20,25,30,35,40,45,50,55,60,65],"labelExpr":"datum.value % 10 == 0 ? datum.label : ''"}}}},
    {"data":{"name":"vl"},"transform":[{"filter":"datum.p=='46'"}],"mark":{"type":"rule","color":"#444"},"encoding":{"x":{"field":"t","type":"quantitative","scale":{"domain":[-20,100],"nice":false,"zero":false},"axis":{"title":null,"offset":5,"labelOverlap":false,"labelFlush":false,"ticks":true,"tickCount":100,"tickSize":4,"tickColor":"#111","values":[-20,-15,-10,-5,0,5,10,15,20,25,30,35,40,45,50,55,60,65,70,75,80,85,90,95],"labelExpr":"datum.value % 20 == 0 ? datum.label : ''"}}}},
    {"data":{"name":"b"},"transform":[{"filter":"datum.p=='46'"}],"mark":{"type":"rect","fill":"white","stroke":"#333","strokeWidth":1},"encoding":{"x":{"field":"x1","type":"quantitative"},"x2":{"field":"x2"},"y":{"field":"y1","type":"quantitative"},"y2":{"field":"y2"}}},
    {"data":{"name":"c"},"transform":[{"filter":"datum.p=='46'"}],"mark":{"type":"line","strokeWidth":1.4,"clip":true},"encoding":{"x":{"field":"t","type":"quantitative"},"y":{"field":"v","type":"quantitative"},"color":{"field":"s","type":"nominal","scale":{"domain":["g","o"],"range":["#12a37c","#e8731c"]},"legend":null}}}
   ]}
 ]}
 ]}
]},
{"width": 1343, "height": 69, "view": {"stroke": "#bbb", "strokeWidth": 1},
 "data": {"values": [{"a": "FIGURE 6 |", "b": "ERG graphs of patients 2, 3, and 9. The first line shows dark-adapted 0.01 ERG. The second line shows dark-adapted 3.0 ERG. The third line shows", "c": "dark-adapted 10.0 ERG. The fourth line shows light-adapted 3.0 ERG. The abscissa is in milliseconds, and the vertical coordinate is in microvolts."}]},
 "layer": [
  {"mark": {"type": "text", "align": "left", "baseline": "middle", "fontSize": 15.5, "fontWeight": "bold", "color": "#222"}, "encoding": {"x": {"value": 12}, "y": {"value": 22}, "text": {"field": "a"}}},
  {"mark": {"type": "text", "align": "left", "baseline": "middle", "fontSize": 15.5, "color": "#333", "dx": 85}, "encoding": {"x": {"value": 12}, "y": {"value": 22}, "text": {"field": "b"}}},
  {"mark": {"type": "text", "align": "left", "baseline": "middle", "fontSize": 15.5, "color": "#333"}, "encoding": {"x": {"value": 12}, "y": {"value": 45}, "text": {"field": "c"}}}
 ]}
]}
]
}
